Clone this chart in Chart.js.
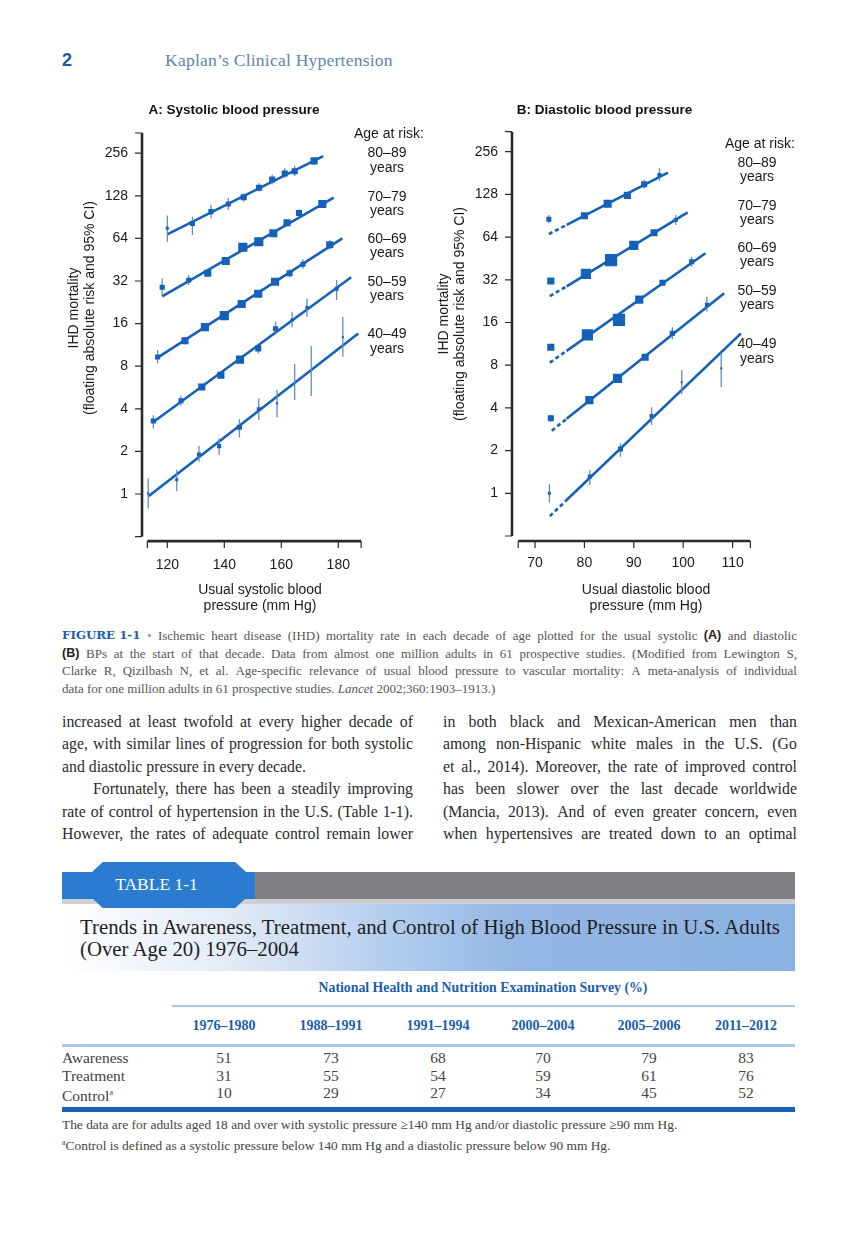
<!DOCTYPE html>
<html lang="en">
<head>
<meta charset="utf-8">
<title>Kaplan's Clinical Hypertension – Figure 1-1</title>
<script src="https://cdn.jsdelivr.net/npm/chart.js@4.4.1/dist/chart.umd.min.js"></script>
<style>
html,body{margin:0;padding:0;background:#fff}
body{position:relative;width:867px;height:1238px;overflow:hidden;font-family:"Liberation Serif","Times New Roman",serif;color:#333}
.a{position:absolute;white-space:nowrap}
canvas{position:absolute}
.age{position:absolute;width:90px;text-align:center;font:14px/14.5px "Liberation Sans",Arial,sans-serif;color:#1a1a1a;white-space:nowrap}
.ytitle{position:absolute;font:14px/16px "Liberation Sans",Arial,sans-serif;color:#1a1a1a;text-align:center;white-space:nowrap;transform:translate(-50%,-50%) rotate(-90deg)}
.jl{position:absolute;display:flex;justify-content:space-between;white-space:nowrap}
.jl > *{white-space:nowrap}
.cap{left:62px;width:735px;height:17.5px;line-height:17.5px;font-size:13px;color:#555}
.cap b.fig{font-family:"DejaVu Serif","Liberation Serif",serif;font-size:11.8px;color:#1d5fa9;font-weight:bold}
.cap b.lt{font-family:"Liberation Sans",Arial,sans-serif;font-size:12.5px;color:#222}
.body{height:22.4px;line-height:22.4px;font-size:15.8px;color:#2a2a2a}
.bl{left:62px;width:351px}
.br{left:443px;width:354px}
.th{font-weight:bold;color:#1d5ea8;font-size:14px;text-align:center;width:110px}
.td{font-size:15.5px;color:#444;text-align:center;width:80px}
</style>
</head>
<body>

<div class="a" style="left:62px;top:49px;font:bold 18px/22px 'Liberation Sans',Arial,sans-serif;color:#1a5aa6">2</div>
<div class="a" style="left:165px;top:49px;font:17.6px/22px 'Liberation Serif',serif;color:#5e84b3;letter-spacing:0.2px">Kaplan’s Clinical Hypertension</div>

<canvas id="chartA" width="288" height="530" style="left:90px;top:95px"></canvas>
<canvas id="chartB" width="351" height="530" style="left:429px;top:95px"></canvas>

<!-- y-axis titles -->
<div class="ytitle" style="left:81px;top:308px">IHD mortality<br>(floating absolute risk and 95% CI)</div>
<div class="ytitle" style="left:451px;top:314px">IHD mortality<br>(floating absolute risk and 95% CI)</div>

<!-- age labels panel A -->
<div class="age" style="left:344px;top:125.75px">Age at risk:</div>
<div class="age" style="left:342px;top:145px">80–89<br>years</div>
<div class="age" style="left:342px;top:188.5px">70–79<br>years</div>
<div class="age" style="left:342px;top:230.75px">60–69<br>years</div>
<div class="age" style="left:342px;top:273.5px">50–59<br>years</div>
<div class="age" style="left:342px;top:326px">40–49<br>years</div>
<!-- age labels panel B -->
<div class="age" style="left:715px;top:135.5px">Age at risk:</div>
<div class="age" style="left:712px;top:154.5px">80–89<br>years</div>
<div class="age" style="left:712px;top:197.75px">70–79<br>years</div>
<div class="age" style="left:712px;top:239.5px">60–69<br>years</div>
<div class="age" style="left:712px;top:282.75px">50–59<br>years</div>
<div class="age" style="left:712px;top:336px">40–49<br>years</div>

<!-- caption -->
<div class="jl cap" style="top:627px"><b class="fig">FIGURE 1-1</b><span style="color:#7a9cc8">•</span> Ischemic heart disease (IHD) mortality rate in each decade of age plotted for the usual systolic <b class="lt">(A)</b> and diastolic</div>
<div class="jl cap" style="top:644.5px"><b class="lt">(B)</b> BPs at the start of that decade. Data from almost one million adults in 61 prospective studies. (Modified from Lewington S,</div>
<div class="jl cap" style="top:662px">Clarke R, Qizilbash N, et al. Age-specific relevance of usual blood pressure to vascular mortality: A meta-analysis of individual</div>
<div class="a cap" style="top:679.5px;width:auto">data for one million adults in 61 prospective studies. <i>Lancet</i> 2002;360:1903–1913.)</div>

<!-- body text -->
<div class="jl body bl" style="top:710.8px">increased at least twofold at every higher decade of</div>
<div class="jl body bl" style="top:733.3px">age, with similar lines of progression for both systolic</div>
<div class="a body bl" style="top:755.8px">and diastolic pressure in every decade.</div>
<div class="jl body bl" style="top:778.3px;padding-left:31px;width:320px">Fortunately, there has been a steadily improving</div>
<div class="jl body bl" style="top:800.8px">rate of control of hypertension in the U.S. (Table 1-1).</div>
<div class="jl body bl" style="top:822.8px">However, the rates of adequate control remain lower</div>

<div class="jl body br" style="top:710.8px">in both black and Mexican-American men than</div>
<div class="jl body br" style="top:733.3px">among non-Hispanic white males in the U.S. (Go</div>
<div class="jl body br" style="top:755.8px">et al., 2014). Moreover, the rate of improved control</div>
<div class="jl body br" style="top:778.3px">has been slower over the last decade worldwide</div>
<div class="jl body br" style="top:800.8px">(Mancia, 2013). And of even greater concern, even</div>
<div class="jl body br" style="top:822.8px">when hypertensives are treated down to an optimal</div>

<!-- table header -->
<div class="a" style="left:62px;top:872px;width:194px;height:27px;background:#2b7bd0"></div>
<div class="a" style="left:255px;top:872px;width:540px;height:27px;background:#808085"></div>
<div class="a" style="left:62px;top:899px;width:733px;height:5px;background:#cfd0d4"></div>
<div class="a" style="left:62px;top:904px;width:733px;height:67px;background:linear-gradient(to right,#ffffff 0%,#e4ecf7 22%,#b3cdee 45%,#93b7e3 62%,#8cb2e1 100%)"></div>
<div class="a" style="left:92px;top:862px;width:154px;height:46px;background:#2b7bd0;clip-path:polygon(7% 0,93% 0,100% 22%,100% 78%,93% 100%,7% 100%,0 78%,0 22%)"></div>
<div class="a" style="left:96px;top:873px;width:121px;font:17.5px/22px 'Liberation Serif',serif;color:#fff;text-align:center">TABLE 1-1</div>
<div class="a" style="left:80px;top:916px;font:20.8px/22px 'Liberation Serif',serif;color:#1e1e1e">Trends in Awareness, Treatment, and Control of High Blood Pressure in U.S. Adults</div>
<div class="a" style="left:80px;top:937.5px;font:20.8px/22px 'Liberation Serif',serif;color:#1e1e1e">(Over Age 20) 1976–2004</div>

<div class="a" style="left:283px;top:979px;width:400px;text-align:center;font:bold 13.8px/18px 'Liberation Serif',serif;color:#1d5ea8">National Health and Nutrition Examination Survey (%)</div>
<div class="a" style="left:172px;top:1005px;width:623px;height:2px;background:#aac6e5"></div>
<div class="a" style="left:62px;top:1044px;width:733px;height:2.5px;background:#aac6e5"></div>
<div class="a" style="left:62px;top:1107px;width:733px;height:4.5px;background:#1b61b5"></div>
<div id="tbl"></div>
<div class="a" style="left:62px;top:1116.5px;font:13.4px/16px 'Liberation Serif',serif;color:#444">The data are for adults aged 18 and over with systolic pressure ≥140 mm Hg and/or diastolic pressure ≥90 mm Hg.</div>
<div class="a" style="left:62px;top:1134.5px;font:13.4px/16px 'Liberation Serif',serif;color:#444"><sup style="font-size:8px">a</sup>Control is defined as a systolic pressure below 140 mm Hg and a diastolic pressure below 90 mm Hg.</div>

<script>
// ---------------- DATA ----------------
const ageGroups = ['80–89', '70–79', '60–69', '50–59', '40–49'];
const riskTicks = [1, 2, 4, 8, 16, 32, 64, 128, 256];
const sbpTicks = [120, 140, 160, 180];
const sbpAxisEnds = [113, 188];
const dbpTicks = [70, 80, 90, 100, 110];
const dbpAxisEnds = [66.6, 113.6];

// Panel A: usual systolic BP (mm Hg) vs IHD mortality (floating absolute risk)
const sbp80X  = [120.0, 128.8, 135.3, 141.4, 146.8, 152.2, 156.8, 161.2, 164.7, 171.5];
const sbp80Y  = [75.5, 81.6, 99, 112, 125, 146, 167, 184, 191, 226];
const sbp80Lo = [60.5, 67.6, 88.8, 101.6, 116, 137, 154, 172, 177, 211];
const sbp80Hi = [93, 91, 110, 124, 133, 157, 180, 200, 209, 238];
const sbp80Wt = [3, 5, 5, 5, 6, 6, 6, 6, 6, 7];
const sbp80FitX = [120.0, 174.7];
const sbp80FitY = [68.4, 244];

const sbp70X  = [118.2, 127.5, 134.2, 140.5, 146.5, 152.1, 157.2, 162.0, 166.2, 174.4];
const sbp70Y  = [28.9, 32.4, 36.3, 44.3, 55.4, 60.6, 69.6, 82.5, 96.8, 112];
const sbp70Lo = [25.5, 30, 34.5, 42.5, 53.5, 58.5, 66.5, 78, 91, 107];
const sbp70Hi = [33.4, 35.3, 38.2, 46, 57.3, 62.7, 73, 87, 103, 117];
const sbp70Wt = [5, 5, 7, 8, 9, 9, 8, 7, 6, 8];
const sbp70FitX = [118.2, 178.4];
const sbp70FitY = [24.9, 124.5];

const sbp60X  = [116.6, 126.2, 133.2, 140.0, 146.1, 151.9, 157.8, 162.9, 167.6, 177.0];
const sbp60Y  = [9.3, 12.1, 15.1, 18.2, 22.0, 26.0, 31.6, 36.3, 42.0, 57.7];
const sbp60Lo = [8.4, 11.4, 14.4, 17.5, 21.2, 25, 30, 34, 39, 53.5];
const sbp60Hi = [10.4, 12.8, 15.8, 19, 22.8, 27, 33.2, 38.8, 45.5, 62];
const sbp60Wt = [5, 7, 8, 9, 8, 8, 8, 6, 5, 7];
const sbp60FitX = [116.6, 181.4];
const sbp60FitY = [9.2, 64];

const sbp50X  = [115.1, 124.8, 132.1, 138.8, 145.5, 151.9, 158.0, 163.8, 169.0, 179.4];
const sbp50Y  = [3.28, 4.56, 5.7, 6.9, 8.9, 10.7, 14.7, 17.0, 20.8, 28.2];
const sbp50Lo = [2.9, 4.2, 5.45, 6.6, 8.6, 9.85, 13.8, 15.1, 17.9, 23.5];
const sbp50Hi = [3.6, 4.95, 5.95, 7.2, 9.2, 11.2, 16.5, 19.4, 24.1, 32.5];
const sbp50Wt = [5, 5, 7, 7, 8, 6, 5, 3, 3, 4];
const sbp50FitX = [115.1, 184.5];
const sbp50FitY = [3.23, 34];

const sbp40X  = [113.3, 123.3, 131.1, 138.2, 145.3, 152.1, 158.5, 164.7, 170.5, 181.6];
const sbp40Y  = [1.01, 1.26, 1.9, 2.18, 2.96, 3.97, 4.37, 6.2, 7.4, 12.8];
const sbp40Lo = [0.79, 1.05, 1.69, 1.89, 2.51, 3.34, 3.48, 4.62, 4.93, 9.34];
const sbp40Hi = [1.29, 1.48, 2.18, 2.48, 3.37, 4.75, 5.43, 8.3, 11.1, 17.9];
const sbp40Wt = [2, 3, 4, 4, 5, 4, 2, 0, 0, 2];
const sbp40FitX = [113.3, 187.0];
const sbp40FitY = [0.96, 13.6];

// Panel B: usual diastolic BP (mm Hg); fit lines dashed over first segment
const dbp80X  = [72.8, 80.0, 84.7, 88.7, 92.1, 95.2];
const dbp80Y  = [85.5, 90.5, 110, 126, 151, 175];
const dbp80Lo = [80.4, 87, 106, 121, 141, 159];
const dbp80Hi = [91.6, 94, 114, 131, 162, 196];
const dbp80Wt = [5, 7, 8, 7, 6, 4];
const dbp80FitX = [72.8, 76.4, 96.9];
const dbp80FitY = [67.2, 78.0, 182];

const dbp70X  = [73.2, 80.3, 85.4, 90.0, 94.1, 98.5];
const dbp70Y  = [31.4, 35.2, 44, 56, 68.7, 84.5];
const dbp70Lo = [30, 34, 42.5, 54.5, 65, 77.9];
const dbp70Hi = [32.8, 36.4, 45.5, 57.5, 72.5, 91.6];
const dbp70Wt = [7, 10, 12, 9, 7, 4];
const dbp70FitX = [73.0, 76.4, 100.9];
const dbp70FitY = [24.5, 28.8, 95.7];

const dbp60X  = [73.2, 80.6, 87.0, 91.1, 95.8, 101.7];
const dbp60Y  = [10.7, 13.1, 16.7, 23.2, 30.5, 42.9];
const dbp60Lo = [10.2, 12.6, 16.1, 22.4, 29, 39.6];
const dbp60Hi = [11.2, 13.6, 17.3, 24, 32, 46.5];
const dbp60Wt = [7, 11, 12, 8, 6, 5];
const dbp60FitX = [73.0, 76.4, 104.5];
const dbp60FitY = [8.34, 10.1, 49.2];

const dbp50X  = [73.2, 81.0, 86.7, 92.3, 97.8, 104.8];
const dbp50Y  = [3.38, 4.54, 6.46, 9.1, 13.4, 21.3];
const dbp50Lo = [3.2, 4.35, 6.2, 8.7, 12.2, 19.1];
const dbp50Hi = [3.57, 4.74, 6.73, 9.5, 14.8, 24.3];
const dbp50Wt = [6, 8, 9, 7, 5, 4];
const dbp50FitX = [73.4, 76.4, 108.3];
const dbp50FitY = [2.76, 3.35, 25.7];

const dbp40X  = [72.9, 81.1, 87.3, 93.6, 99.7, 107.7];
const dbp40Y  = [1.0, 1.31, 2.05, 3.5, 6.06, 7.6];
const dbp40Lo = [0.86, 1.14, 1.81, 3.03, 5.0, 5.6];
const dbp40Hi = [1.16, 1.46, 2.25, 4.04, 7.4, 9.7];
const dbp40Wt = [3, 4, 5, 4, 2, 2];
const dbp40FitX = [73.0, 76.4, 111.7];
const dbp40FitY = [0.69, 0.896, 13.4];

// Table 1-1
const surveyPeriods = ['1976–1980', '1988–1991', '1991–1994', '2000–2004', '2005–2006', '2011–2012'];
const awareness = [51, 73, 68, 70, 79, 83];
const treatment = [31, 55, 54, 59, 61, 76];
const control   = [10, 29, 27, 34, 45, 52];

// ---------------- STYLE ----------------
const BLUE = '#1560b8';
const ERR = '#5d8fc4';
const AXIS = '#2a2a2a';
const SANS = '"Liberation Sans", Arial, sans-serif';

const seriesA = [
  {x: sbp80X, y: sbp80Y, lo: sbp80Lo, hi: sbp80Hi, wt: sbp80Wt, fx: sbp80FitX, fy: sbp80FitY},
  {x: sbp70X, y: sbp70Y, lo: sbp70Lo, hi: sbp70Hi, wt: sbp70Wt, fx: sbp70FitX, fy: sbp70FitY},
  {x: sbp60X, y: sbp60Y, lo: sbp60Lo, hi: sbp60Hi, wt: sbp60Wt, fx: sbp60FitX, fy: sbp60FitY},
  {x: sbp50X, y: sbp50Y, lo: sbp50Lo, hi: sbp50Hi, wt: sbp50Wt, fx: sbp50FitX, fy: sbp50FitY},
  {x: sbp40X, y: sbp40Y, lo: sbp40Lo, hi: sbp40Hi, wt: sbp40Wt, fx: sbp40FitX, fy: sbp40FitY}
];
const seriesB = [
  {x: dbp80X, y: dbp80Y, lo: dbp80Lo, hi: dbp80Hi, wt: dbp80Wt, fx: dbp80FitX, fy: dbp80FitY},
  {x: dbp70X, y: dbp70Y, lo: dbp70Lo, hi: dbp70Hi, wt: dbp70Wt, fx: dbp70FitX, fy: dbp70FitY},
  {x: dbp60X, y: dbp60Y, lo: dbp60Lo, hi: dbp60Hi, wt: dbp60Wt, fx: dbp60FitX, fy: dbp60FitY},
  {x: dbp50X, y: dbp50Y, lo: dbp50Lo, hi: dbp50Hi, wt: dbp50Wt, fx: dbp50FitX, fy: dbp50FitY},
  {x: dbp40X, y: dbp40Y, lo: dbp40Lo, hi: dbp40Hi, wt: dbp40Wt, fx: dbp40FitX, fy: dbp40FitY}
];

function buildDatasets(series, dashedStart) {
  const ds = [];
  series.forEach((s, k) => {
    ds.push({
      type: 'line', label: ageGroups[k] + ' fit',
      data: s.fx.map((x, i) => ({x, y: s.fy[i]})),
      borderColor: BLUE, borderWidth: 2.6, pointRadius: 0, fill: false, tension: 0,
      segment: dashedStart ? {borderDash: c => c.p0DataIndex === 0 ? [4, 3] : undefined} : undefined,
      order: 3
    });
    const eb = [];
    s.x.forEach((x, i) => { eb.push({x, y: s.lo[i]}, {x, y: s.hi[i]}, {x, y: null}); });
    ds.push({
      type: 'line', label: ageGroups[k] + ' 95% CI', data: eb,
      borderColor: ERR, borderWidth: 1.3, pointRadius: 0, spanGaps: false, fill: false,
      order: 2
    });
    ds.push({
      type: 'scatter', label: ageGroups[k],
      data: s.x.map((x, i) => ({x, y: s.y[i]})),
      pointStyle: 'rect', pointRadius: s.wt.map(w => w * 0.72),
      backgroundColor: BLUE, pointBackgroundColor: BLUE, pointBorderWidth: 0, borderWidth: 0,
      order: 1
    });
  });
  return ds;
}

const detachedAxes = {
  id: 'detachedAxes',
  afterDraw(chart, args, o) {
    const {ctx, chartArea: ca, scales: {x, y}} = chart;
    ctx.save();
    ctx.strokeStyle = AXIS;
    ctx.lineCap = 'butt';
    ctx.lineWidth = 2.6;
    ctx.beginPath(); ctx.moveTo(ca.left, ca.top); ctx.lineTo(ca.left, ca.bottom); ctx.stroke();
    ctx.lineWidth = 1.2;
    ctx.beginPath();
    [y.min, ...o.yTicks, y.max].forEach(v => {
      const p = y.getPixelForValue(v);
      ctx.moveTo(ca.left - 7, p); ctx.lineTo(ca.left, p);
    });
    ctx.stroke();
    const ay = ca.bottom + o.gap;
    const x0 = x.getPixelForValue(o.xEnds[0]), x1 = x.getPixelForValue(o.xEnds[1]);
    ctx.lineWidth = 2.6;
    ctx.beginPath(); ctx.moveTo(x0, ay); ctx.lineTo(x1, ay); ctx.stroke();
    ctx.lineWidth = 1.2;
    ctx.beginPath();
    [o.xEnds[0], ...o.xTicks, o.xEnds[1]].forEach(v => {
      const p = x.getPixelForValue(v);
      ctx.moveTo(p, ay); ctx.lineTo(p, ay + 7);
    });
    ctx.stroke();
    ctx.restore();
  }
};

function makeChart(id, cfg) {
  return new Chart(document.getElementById(id), {
    type: 'scatter',
    data: {datasets: buildDatasets(cfg.series, cfg.dashed)},
    plugins: [detachedAxes],
    options: {
      responsive: false, animation: false, events: [], devicePixelRatio: 1,
      layout: {padding: 0, autoPadding: false},
      plugins: {
        legend: {display: false}, tooltip: {enabled: false},
        title: {display: true, text: cfg.title, color: '#111',
          font: {family: SANS, size: 13.5, weight: 'bold', lineHeight: 1.2},
          padding: {top: cfg.titleTop, bottom: cfg.titleBottom}},
        detachedAxes: {gap: cfg.gap, xEnds: cfg.xEnds, xTicks: cfg.xTicks, yTicks: riskTicks}
      },
      scales: {
        x: {
          type: 'linear', min: cfg.xMin, max: cfg.xMax,
          afterBuildTicks: sc => { sc.ticks = cfg.xTicks.map(v => ({value: v})); },
          afterFit: sc => { sc.height = cfg.xHeight; },
          grid: {display: false, drawTicks: false}, border: {display: false},
          ticks: {autoSkip: false, maxRotation: 0, padding: cfg.xTickPad, color: '#1a1a1a',
            font: {family: SANS, size: 14, lineHeight: 1.2}},
          title: {display: true, text: cfg.xTitle, color: '#1a1a1a',
            font: {family: SANS, size: 14, lineHeight: 1.2}, padding: {top: 0, bottom: 10}}
        },
        y: {
          type: 'logarithmic', min: 0.5, max: cfg.yMax,
          afterBuildTicks: sc => { sc.ticks = riskTicks.map(v => ({value: v})); },
          afterFit: sc => { sc.width = cfg.yWidth; },
          grid: {display: false, drawTicks: false}, border: {display: false},
          ticks: {autoSkip: false, padding: 14, color: '#1a1a1a', callback: v => String(v),
            font: {family: SANS, size: 14, lineHeight: 1.2}}
        }
      }
    }
  });
}

makeChart('chartA', {
  series: seriesA, dashed: false, title: 'A: Systolic blood pressure',
  titleTop: 6.9, titleBottom: 14.9, yWidth: 52, xHeight: 88.4,
  xMin: 111.12, xMax: 193.93, yMax: 355.6, xTicks: sbpTicks, xEnds: sbpAxisEnds,
  xTickPad: 20, gap: 4.5, xTitle: ['Usual systolic blood', 'pressure (mm Hg)']
});
makeChart('chartB', {
  series: seriesB, dashed: true, title: 'B: Diastolic blood pressure',
  titleTop: 7.6, titleBottom: 12.9, yWidth: 83, xHeight: 89,
  xMin: 65.34, xMax: 119.6, yMax: 354, xTicks: dbpTicks, xEnds: dbpAxisEnds,
  xTickPad: 19, gap: 5, xTitle: ['Usual diastolic blood', 'pressure (mm Hg)']
});

// ---------------- TABLE ----------------
(function () {
  const host = document.getElementById('tbl');
  const colX = [224, 331, 438, 543, 649, 746];
  const add = (html, cls, left, top, w) => {
    const d = document.createElement('div');
    d.className = 'a ' + cls; d.innerHTML = html;
    d.style.left = (left - w / 2) + 'px'; d.style.top = top + 'px';
    d.style.lineHeight = '18px';
    host.appendChild(d);
  };
  surveyPeriods.forEach((p, i) => add(p, 'th', colX[i], 1017, 110));
  const rows = [['Awareness', awareness], ['Treatment', treatment], ['Control<sup style="font-size:8px">a</sup>', control]];
  const rowY = [1049, 1067, 1084];
  rows.forEach((r, k) => {
    const lab = document.createElement('div');
    lab.className = 'a'; lab.innerHTML = r[0];
    lab.style.cssText = 'left:62px;top:' + rowY[k] + 'px;font-size:15.5px;line-height:18px;color:#444';
    host.appendChild(lab);
    r[1].forEach((v, i) => add(String(v), 'td', colX[i], rowY[k], 80));
  });
})();

// ---------------- justified lines ----------------
document.querySelectorAll('.jl').forEach(el => {
  const items = [];
  Array.from(el.childNodes).forEach(n => {
    if (n.nodeType === 3) {
      n.textContent.split(/\s+/).filter(Boolean).forEach(w => {
        const s = document.createElement('span'); s.textContent = w; items.push(s);
      });
    } else items.push(n);
  });
  el.textContent = '';
  items.forEach(i => el.appendChild(i));
});
</script>
</body>
</html>
